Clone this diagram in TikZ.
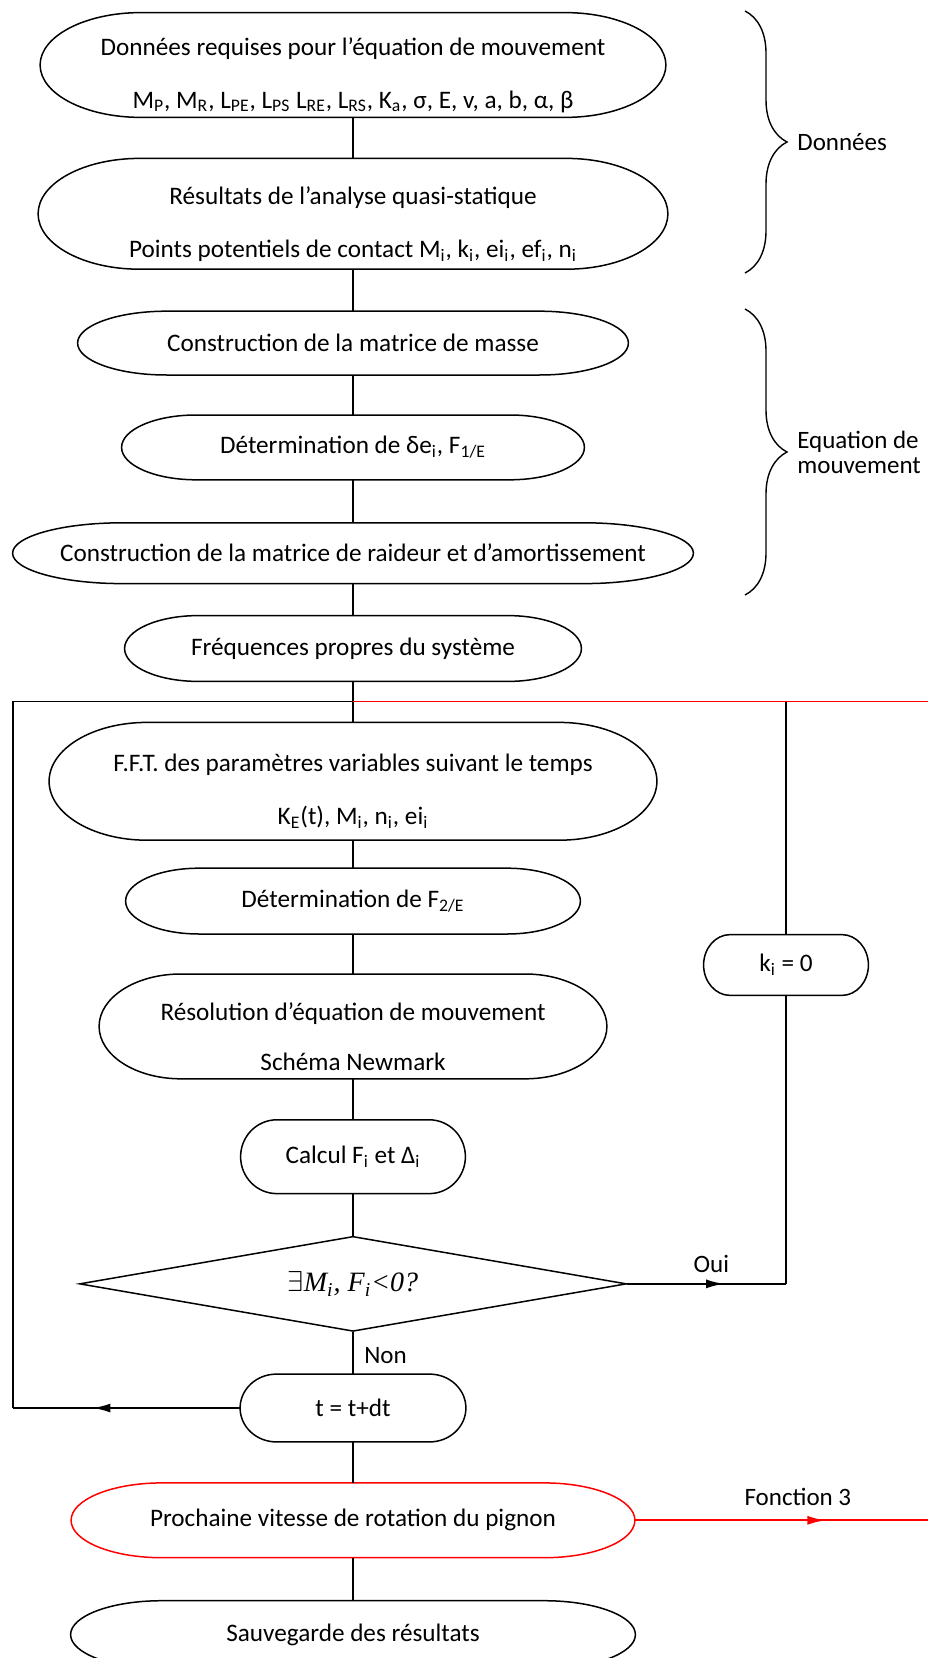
\documentclass[tikz,border=0pt]{standalone}
\usepackage{fontspec}
\setmainfont{Carlito}
\newfontfamily\timesfont{Liberation Serif}
\usetikzlibrary{positioning, arrows.meta, shapes.geometric, decorations.pathreplacing, decorations.markings, calc}
\newcommand{\topgap}{\rule{0pt}{19pt}}
\tikzset{proc/.style={rectangle, align=center, font=\fontsize{12.6}{15.5}\selectfont, inner sep=2pt},outline/.style={line width=0.75pt},link/.style={line width=0.6pt},tipmid/.style={line width=1pt, postaction={decorate}, decoration={markings, mark=at position #1 with {\arrow{Latex[length=9pt,width=4.5pt]}}}},bracel/.style={decorate, decoration={brace, amplitude=21pt, aspect=0.5}, line width=0.7pt},lbl/.style={font=\fontsize{12.5}{12.5}\selectfont}}

\begin{document}
\begin{tikzpicture}[x=0.5pt, y=-0.5pt,
   test/.style={draw, diamond, aspect=5.7, line width=0.75pt, inner sep=0pt,
                minimum width=273.5pt, minimum height=47.5pt,
                font=\timesfont\itshape\fontsize{14}{16}\selectfont}]
  \useasboundingbox (0,0) rectangle (928,1658);
  \coordinate (lft) at (13,0);
  \coordinate (rgt) at (928,0);

  % Données
  \node[proc, minimum width=312.5pt, minimum height=52pt] (req) at (353,65)
    {\topgap Données requises pour l’équation de mouvement\\[11pt]
     M\textsubscript{P}, M\textsubscript{R}, L\textsubscript{PE}, L\textsubscript{PS} L\textsubscript{RE}, L\textsubscript{RS}, K\textsubscript{a}, σ, E, v, a, b, α, β};
  \node[proc, minimum width=314.5pt, minimum height=55pt, below=20.5pt of req] (quasi)
    {\topgap Résultats de l’analyse quasi-statique\\[11pt]
     Points potentiels de contact M\textsubscript{i}, k\textsubscript{i}, ei\textsubscript{i}, ef\textsubscript{i}, n\textsubscript{i}};

  % Equation de mouvement
  \node[proc, minimum width=275pt, minimum height=31.5pt, below=21pt of quasi] (masse) {Construction de la matrice de masse};
  \node[proc, minimum width=231pt, minimum height=32pt, below=20pt of masse] (delta) {Détermination de δe\textsubscript{i}, F\textsubscript{1/E}};
  \node[proc, minimum width=340pt, minimum height=30pt, below=21.5pt of delta] (raid) {Construction de la matrice de raideur et d’amortissement};
  \node[proc, minimum width=228pt, minimum height=32.5pt, below=16pt of raid] (freq) {Fréquences propres du système};

  % boucle temporelle
  \node[proc, minimum width=303.5pt, minimum height=58.5pt, below=20.5pt of freq] (fft)
    {\topgap F.F.T. des paramètres variables suivant le temps\\[11pt]
     K\textsubscript{E}(t), M\textsubscript{i}, n\textsubscript{i}, ei\textsubscript{i}};
  \node[proc, minimum width=227pt, minimum height=32.5pt, below=14pt of fft] (ftwo) {Détermination de F\textsubscript{2/E}};
  \node[proc, minimum width=253.5pt, minimum height=52pt, below=20pt of ftwo] (newm)
    {\topgap Résolution d’équation de mouvement\\[9.5pt] Schéma Newmark};
  \node[proc, minimum width=112pt, minimum height=36.5pt, below=20.5pt of newm] (calc) {Calcul F\textsubscript{i} et Δ\textsubscript{i}};
  \node[test, below=21pt of calc] (neg) {$\exists$M\textsubscript{i}, F\textsubscript{i}<0?};
  \node[proc, minimum width=82pt, minimum height=30pt] (kzero) at (786,965) {k\textsubscript{i} = 0};
  \node[proc, minimum width=112.5pt, minimum height=33.5pt, below=21pt of neg] (step) {t = t+dt};

  % sorties
  \node[proc, minimum width=281.5pt, minimum height=37pt, below=20.5pt of step] (next) {Prochaine vitesse de rotation du pignon};
  \node[proc, minimum width=282pt, minimum height=33.5pt, below=21.5pt of next] (save) {Sauvegarde des résultats};

  % contours (terminaison a bouts elliptiques)
  \foreach \nd/\col in {req/black, quasi/black, masse/black, delta/black, raid/black, freq/black,
                        fft/black, ftwo/black, newm/black, calc/black, kzero/black, step/black,
                        next/red, save/black}
    \draw[outline, draw=\col] let \p1=(\nd.north west), \p2=(\nd.south east),
        \n1={(\y1-\y2)/2}, \n2={0.161*(\x2-\x1)} in
      (\x1+\n2,\y1) -- (\x2-\n2,\y1) arc[start angle=90, end angle=-90, x radius=\n2, y radius=\n1]
      -- (\x1+\n2,\y2) arc[start angle=270, end angle=90, x radius=\n2, y radius=\n1] -- cycle;

  % liaisons
  \draw[link] (req) -- (quasi);
  \draw[link] (quasi) -- (masse);
  \draw[link] (masse) -- (delta);
  \draw[link] (delta) -- (raid);
  \draw[link] (raid) -- (freq);
  \draw[link] (freq) -- (fft);
  \draw[link] (fft) -- (ftwo);
  \draw[link] (ftwo) -- (newm);
  \draw[link] (newm) -- (calc);
  \draw[link] (calc) -- (neg);
  \draw[link] (neg) -- node[lbl, right=2pt, pos=0.55] {Non} (step);
  \draw[link] (step) -- (next);
  \draw[link] (next) -- (save);

  % retours
  \coordinate (jn) at ($(freq.south)!0.49!(fft.north)$);
  \draw[tipmid=0.61] (neg.east) -- node[lbl, above=2pt, pos=0.53] {Oui} (neg.east -| kzero.south);
  \draw[link] (neg.east -| kzero.south) -- (kzero.south);
  \draw[link] (kzero.north) -- (jn -| kzero.north);
  \draw[tipmid=0.65] (step.west) -- (step.west -| lft);
  \draw[link] (step.west -| lft) -- (jn -| lft) -- (jn);
  \draw[link, red, line width=0.9pt] (jn) -- (jn -| rgt);
  \draw[tipmid=0.65, red] (next.east) -- node[lbl, above=3.5pt, pos=0.556, text=black] {Fonction 3} (next.east -| rgt);

  % accolades
  \draw[bracel] (745,11) -- node[lbl, right=22.5pt] (dlab) {Données} (745,273);
  \draw[bracel] (745,309) -- node[lbl, right=22.5pt, align=left] (elab) {Equation de\\mouvement} (745,595);
\end{tikzpicture}
\end{document}
